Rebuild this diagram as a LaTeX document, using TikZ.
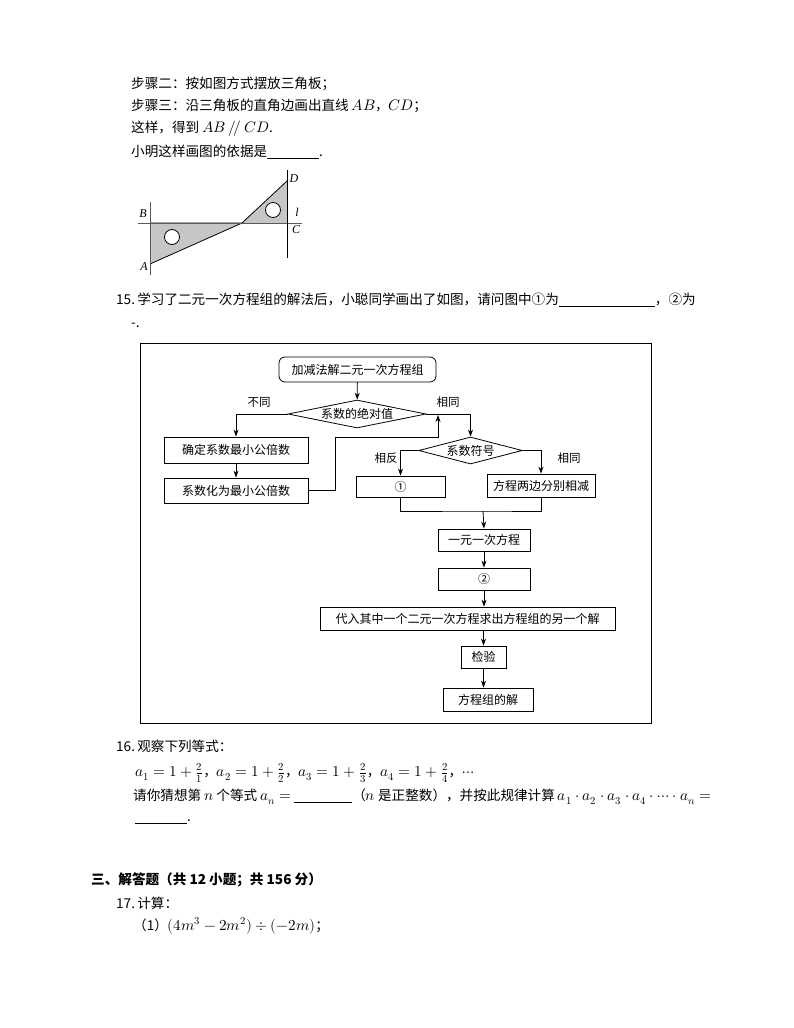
\documentclass[tikz,border=0pt]{standalone}
\usepackage{fontspec}
\usepackage{unicode-math}
\setmainfont{Noto Sans CJK SC}
\setmathfont{Latin Modern Math}[Scale=1.12]
\newfontfamily\labfont{Liberation Serif}
\usetikzlibrary{arrows.meta,shapes.geometric}
\begin{document}
\begin{tikzpicture}[x=1pt,y=-1pt,
  txt/.style={anchor=west,inner sep=0,font=\fontsize{13.6}{16}\selectfont},
  lab/.style={inner sep=0,font=\fontsize{12}{13}\labfont\itshape},
  fbox/.style={draw,thick,minimum width=#1,minimum height=22,inner sep=0,font=\fontsize{12}{14}\selectfont},
  fdia/.style={draw,thick,diamond,aspect=5,inner sep=0,font=\fontsize{12}{14}\selectfont},
  fl/.style={font=\fontsize{11.5}{13}\selectfont,inner sep=0},
  arr/.style={thick,-{Stealth[length=7pt,width=5pt]}},
  ln/.style={thick}]
\useasboundingbox (0,0) rectangle (794,1028);
\fill[white] (0,0) rectangle (794,1028);
% text
\node[txt] (t1) at (131,84) {步骤二：按如图方式摆放三角板；};
\node[txt] (t2) at (131,106) {步骤三：沿三角板的直角边画出直线 $AB$，$CD$；};
\node[txt] (t3) at (131,129) {这样，得到 $AB\ /\!/\ CD$.};
\node[txt] (t4) at (131,152) {小明这样画图的依据是\rule[-2pt]{52pt}{0.6pt}.};
% figure
\fill[gray!45] (150,223) -- (242,223) -- (150,264) -- cycle;
\fill[gray!45] (242,223) -- (287,223) -- (287,181) -- cycle;
\draw[thick] (150,223) -- (242,223) -- (150,264);
\draw[thick] (242,223) -- (287,181);
\draw[thick,gray!70!black] (150,202) -- (150,275);
\draw[thick,gray!70!black] (138,223) -- (302,223);
\draw[thick] (287,170) -- (287,258);
\draw[thick,fill=white] (172,237) circle (7.5);
\draw[thick,fill=white] (273,210) circle (7.5);
\node[lab] (B) at (143,214) {B};
\node[lab] (l) at (297,212) {l};
\node[lab] (C) at (296,230) {C};
\node[lab] (D) at (294,179) {D};
\node[lab] (A) at (144,267) {A};
\node[txt] (t15) at (116,300) {15.\,学习了二元一次方程组的解法后，小聪同学画出了如图，请问图中①为\rule[-2pt]{96pt}{0.6pt}，②为};
\node[txt] (t15b) at (131,325) {-.};
% flowchart
\draw[thick] (140,343) rectangle (651,723);
\node[draw,thick,rounded corners=6pt,minimum width=157,minimum height=25,inner sep=0,font=\fontsize{12}{14}\selectfont] (top) at (357.5,369.5) {加减法解二元一次方程组};
\node[fdia,minimum width=138,minimum height=28] (d1) at (357,414) {系数的绝对值};
\node[fbox=144,minimum height=26] (b1) at (236,450) {确定系数最小公倍数};
\node[fbox=144,minimum height=25] (b2) at (236,490.5) {系数化为最小公倍数};
\node[fdia,minimum width=95,minimum height=27] (d2) at (470.5,450.5) {系数符号};
\node[fbox=89,minimum height=21] (c1) at (400.5,486.5) {①};
\node[fbox=108,minimum height=23] (c2) at (541,485.5) {方程两边分别相减};
\node[fbox=92] (e1) at (484,540) {一元一次方程};
\node[fbox=92] (e2) at (484,579) {②};
\node[fbox=295,minimum height=23] (e3) at (467.5,618.5) {代入其中一个二元一次方程求出方程组的另一个解};
\node[fbox=45] (e4) at (483.5,657) {检验};
\node[fbox=90,minimum height=23] (e5) at (488,699.5) {方程组的解};
\node[fl] (n1) at (259,402) {不同};
\node[fl] (n2) at (448,402) {相同};
\node[fl] (n3) at (386,458) {相反};
\node[fl] (n4) at (569,458) {相同};
\draw[arr] (top) -- (d1);
\draw[arr] (d1.west) -| (b1.north);
\draw[arr] (b1) -- (b2);
\draw[arr] (b2.east) -- ++(27,0) |- (438,437) -- (438,415);
\draw[arr] (d1.east) -| (d2.north);
\draw[arr] (d2.west) -| (c1.north);
\draw[arr] (d2.east) -| (c2.north);
\coordinate (m) at (483,511);
\draw[ln] (c1.south) |- (m) -| (c2.south);
\draw[arr] (m) -- (e1.north);
\draw[arr] (e1) -- (e2);
\draw[arr] (e2.south) -- (e2.south |- e3.north);
\draw[arr] (e3.south -| e4) -- (e4.north);
\draw[arr] (e4.south) -- (e4.south |- e5.north);
% 16
\node[txt] (t16) at (116,746) {16.\,观察下列等式：};
\node[txt] (t16a) at (135,773) {$a_1=1+\frac{2}{1}$，$a_2=1+\frac{2}{2}$，$a_3=1+\frac{2}{3}$，$a_4=1+\frac{2}{4}$，$\cdots$};
\node[txt] (t16b) at (133,797) {请你猜想第 $n$ 个等式 $a_n=$ \rule[-2pt]{58pt}{0.6pt}（$n$ 是正整数），并按此规律计算 $a_1\cdot a_2\cdot a_3\cdot a_4\cdot\cdots\cdot a_n=$};
\node[txt] (t16c) at (135,822) {\rule[-2pt]{52pt}{0.6pt}.};
\node[txt,font=\fontsize{13.6}{16}\selectfont\bfseries] (t3h) at (91,880) {三、解答题（共 12 小题；共 156 分）};
\node[txt] (t17) at (116,903) {17.\,计算：};
\node[txt] (t17a) at (133,926) {（1）$(4m^3-2m^2)\div(-2m)$；};
\end{tikzpicture}
\end{document}
